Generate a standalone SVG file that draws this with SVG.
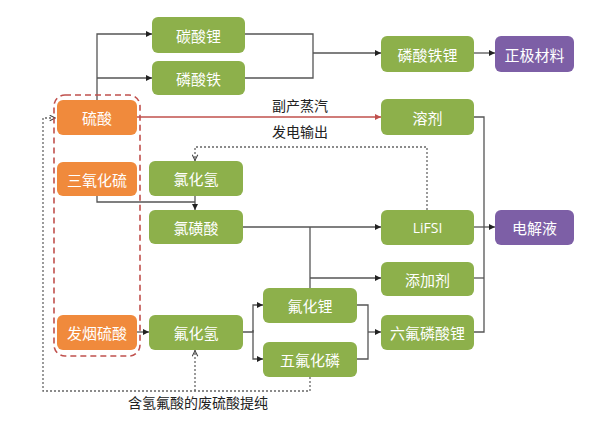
<svg xmlns="http://www.w3.org/2000/svg" width="609" height="426" viewBox="0 0 609 426">
<defs>
<marker id="ah" viewBox="0 0 10 10" refX="10" refY="5" markerWidth="6" markerHeight="6" orient="auto" markerUnits="userSpaceOnUse"><path d="M0,0 L10,5 L0,10 z" fill="#222"/></marker>
<marker id="ahr" viewBox="0 0 10 10" refX="10" refY="5" markerWidth="6" markerHeight="6" orient="auto" markerUnits="userSpaceOnUse"><path d="M0,0 L10,5 L0,10 z" fill="#c0504d"/></marker>
<marker id="ahd" viewBox="0 0 10 10" refX="10" refY="5" markerWidth="7" markerHeight="7" orient="auto" markerUnits="userSpaceOnUse"><path d="M1,1 L9,5 L1,9" fill="none" stroke="#444" stroke-width="1.5"/></marker>
</defs>
<style>
.g{fill:#8db04b}
.o{fill:#f08a3c}
.p{fill:#7d5fa6}
.t{font-family:"Noto Sans CJK SC","Liberation Sans",sans-serif;font-size:15px;fill:#fff;text-anchor:middle;dominant-baseline:central}
.l{font-family:"Noto Sans CJK SC","Liberation Sans",sans-serif;font-size:14px;fill:#222;text-anchor:middle;dominant-baseline:central}
.c{fill:none;stroke:#555;stroke-width:1.3}
.d{fill:none;stroke:#666;stroke-width:1.3;stroke-dasharray:2 2}
</style>
<rect x="0" y="0" width="609" height="426" fill="#fff"/>
<g id="connectors">
<path class="c" d="M97,100 V34 H152" marker-end="url(#ah)"/>
<path class="c" d="M97,78 H152" marker-end="url(#ah)"/>
<path class="c" d="M245,34 H313 V78 H245"/>
<path class="c" d="M313,53 H381" marker-end="url(#ah)"/>
<path class="c" d="M474,53 H495" marker-end="url(#ah)"/>
<path d="M137,117 H381" fill="none" stroke="#c0504d" stroke-width="1.3" marker-end="url(#ahr)"/>
<path class="d" d="M427,210 V147 H195 V161" marker-end="url(#ahd)"/>
<path class="c" d="M195,196 V210" marker-end="url(#ah)"/>
<path class="c" d="M97,196 V202 H195"/>
<path class="c" d="M243,227 H381" marker-end="url(#ah)"/>
<path class="c" d="M310,227 V288"/>
<path class="c" d="M310,278 H381" marker-end="url(#ah)"/>
<path class="c" d="M474,117 H484 V332 H474"/>
<path class="c" d="M474,278 H484"/>
<path class="c" d="M474,227 H495" marker-end="url(#ah)"/>
<path class="c" d="M137,332 H149" marker-end="url(#ah)"/>
<path class="c" d="M243,332 H253 V305 H263" marker-end="url(#ah)"/>
<path class="c" d="M253,330 V359 H263" marker-end="url(#ah)"/>
<path class="c" d="M357,305 H368 V359 H357"/>
<path class="c" d="M368,332 H381" marker-end="url(#ah)"/>
<path class="d" d="M310,377 V391 H43 V118 H56" marker-end="url(#ahd)"/>
<path class="d" d="M195,391 V350" marker-end="url(#ahd)"/>
<rect x="54" y="95" width="86" height="261" rx="11" fill="none" stroke="#c0504d" stroke-width="1.6" stroke-dasharray="6 4"/>
</g>
<g id="n-tansuanli"><rect class="g" x="152" y="17" width="93" height="36" rx="6"/><text class="t" x="198.5" y="35">碳酸锂</text></g>
<g id="n-linsuantie"><rect class="g" x="152" y="61" width="93" height="34" rx="6"/><text class="t" x="198.5" y="78">磷酸铁</text></g>
<g id="n-linsuantieli"><rect class="g" x="381" y="36" width="93" height="36" rx="6"/><text class="t" x="427.5" y="54">磷酸铁锂</text></g>
<g id="n-zhengji"><rect class="p" x="495" y="36" width="79" height="36" rx="6"/><text class="t" x="534.5" y="54">正极材料</text></g>
<g id="n-liusuan"><rect class="o" x="57" y="100" width="80" height="35" rx="6"/><text class="t" x="97" y="117.5">硫酸</text></g>
<g id="n-rongji"><rect class="g" x="381" y="99" width="93" height="36" rx="6"/><text class="t" x="427.5" y="117">溶剂</text></g>
<g id="n-sanyanghualiu"><rect class="o" x="57" y="162" width="80" height="34" rx="6"/><text class="t" x="97" y="179">三氧化硫</text></g>
<g id="n-lvhuaqing"><rect class="g" x="149" y="161" width="94" height="35" rx="6"/><text class="t" x="196" y="178.5">氯化氢</text></g>
<g id="n-lvhuangsuan"><rect class="g" x="149" y="210" width="94" height="34" rx="6"/><text class="t" x="196" y="227">氯磺酸</text></g>
<g id="n-lifsi"><rect class="g" x="381" y="210" width="93" height="35" rx="6"/><text class="t" x="427.5" y="227.5" style="font-family:'Open Sans','Liberation Sans',sans-serif;font-size:14px">LiFSI</text></g>
<g id="n-dianjieye"><rect class="p" x="495" y="210" width="79" height="35" rx="6"/><text class="t" x="534.5" y="227.5">电解液</text></g>
<g id="n-tianjiaji"><rect class="g" x="381" y="262" width="93" height="34" rx="6"/><text class="t" x="427.5" y="279">添加剂</text></g>
<g id="n-fuhuali"><rect class="g" x="263" y="288" width="94" height="35" rx="6"/><text class="t" x="310" y="305.5">氟化锂</text></g>
<g id="n-liufu"><rect class="g" x="381" y="315" width="93" height="35" rx="6"/><text class="t" x="427.5" y="332.5">六氟磷酸锂</text></g>
<g id="n-fayan"><rect class="o" x="57" y="315" width="80" height="35" rx="6"/><text class="t" x="97" y="332.5">发烟硫酸</text></g>
<g id="n-fuhuaqing"><rect class="g" x="149" y="315" width="94" height="35" rx="6"/><text class="t" x="196" y="332.5">氟化氢</text></g>
<g id="n-wufuhualin"><rect class="g" x="263" y="342" width="94" height="35" rx="6"/><text class="t" x="310" y="359.5">五氟化磷</text></g>
<g id="labels">
<text class="l" x="300" y="105">副产蒸汽</text>
<text class="l" x="300" y="131">发电输出</text>
<text class="l" x="198" y="402">含氢氟酸的废硫酸提纯</text>
</g>
</svg>
